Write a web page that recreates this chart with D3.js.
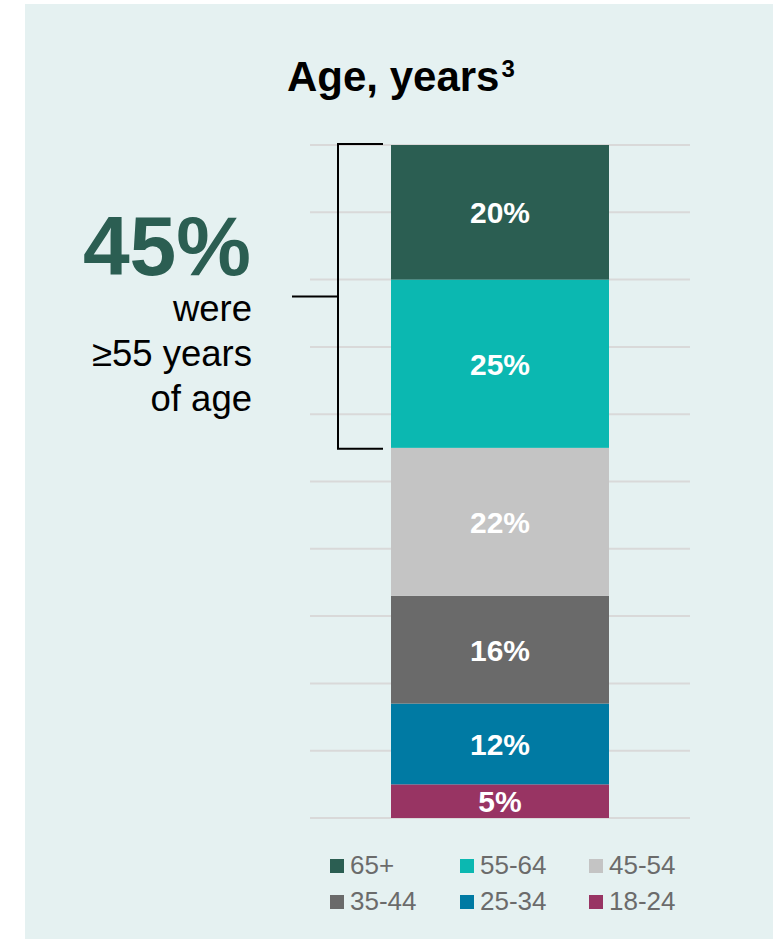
<!DOCTYPE html>
<html>
<head>
<meta charset="utf-8">
<script src="https://cdn.jsdelivr.net/npm/d3@7"></script>
<style>
  html, body { margin: 0; padding: 0; background: #ffffff; }
  svg { display: block; font-family: "Liberation Sans", Arial, Helvetica, sans-serif; }
</style>
</head>
<body>
<svg id="chart" width="782" height="941"></svg>
<script>
// ---- data ----
const categories = ["18-24", "25-34", "35-44", "45-54", "55-64", "65+"];
const values = [5, 12, 16, 22, 25, 20];
const colors = ["#983463", "#007aa3", "#6a6a6a", "#c4c4c4", "#0bb8b1", "#2b5e52"];
const legendOrder = ["65+", "55-64", "45-54", "35-44", "25-34", "18-24"];
const gridTicks = [0, 10, 20, 30, 40, 50, 60, 70, 80, 90, 100];
const titleText = "Age, years";
const titleSup = "3";
const calloutValue = "45%";
const calloutLines = ["were", "\u226555 years", "of age"];
const bracketRange = [55, 100];

// ---- layout ----
const svg = d3.select("#chart");
svg.append("rect").attr("x", 25).attr("y", 4).attr("width", 748).attr("height", 935).attr("fill", "#e5f1f1");

const y = d3.scaleLinear().domain([0, 100]).range([818, 145]);
const x = d3.scaleBand().domain(["Age"]).range([391, 609]).padding(0);

// gridlines
svg.append("g").selectAll("line").data(gridTicks).join("line")
  .attr("x1", 310).attr("x2", 690)
  .attr("y1", d => y(d)).attr("y2", d => y(d))
  .attr("stroke", "#d9d9d9").attr("stroke-width", 2);

// stacked data
let acc = 0;
const stacked = categories.map((c, i) => {
  const s = { cat: c, v: values[i], y0: acc, y1: acc + values[i], color: colors[i] };
  acc += values[i];
  return s;
});

const g = svg.append("g");
g.selectAll("rect").data(stacked).join("rect")
  .attr("x", x("Age")).attr("width", x.bandwidth())
  .attr("y", d => y(d.y1)).attr("height", d => y(d.y0) - y(d.y1))
  .attr("fill", d => d.color);

g.selectAll("text").data(stacked).join("text")
  .attr("x", x("Age") + x.bandwidth() / 2)
  .attr("y", d => (y(d.y0) + y(d.y1)) / 2)
  .attr("dy", "0.36em")
  .attr("text-anchor", "middle")
  .attr("fill", "#ffffff").attr("font-weight", "bold").attr("font-size", 30)
  .text(d => d.v + "%");

// title
const title = svg.append("text").attr("x", 287).attr("y", 91)
  .attr("font-weight", "bold").attr("font-size", 42).attr("fill", "#000");
title.append("tspan").text(titleText);
title.append("tspan").attr("font-size", 24).attr("dy", -14).attr("dx", 2).text(titleSup);

// bracket
const bTop = y(bracketRange[1]) - 1, bBot = y(bracketRange[0]) + 1;
const bx = 338;
const bracket = svg.append("g").attr("stroke", "#000").attr("stroke-width", 2).attr("fill", "none");
bracket.append("path").attr("d", `M383,${bTop} H${bx} V${bBot} H383`);
bracket.append("line").attr("x1", 292).attr("x2", bx).attr("y1", (bTop + bBot) / 2).attr("y2", (bTop + bBot) / 2);

// callout
svg.append("text").attr("x", 251).attr("y", 275).attr("text-anchor", "end")
  .attr("font-weight", "bold").attr("font-size", 84).attr("fill", "#2b5e52").text(calloutValue);
svg.append("g").selectAll("text").data(calloutLines).join("text")
  .attr("x", 252).attr("y", (d, i) => 321 + i * 45)
  .attr("text-anchor", "end").attr("font-size", 36.5).attr("fill", "#000")
  .text(d => d);

// legend
const legend = svg.append("g");
const colX = [330, 460, 589];
const rowY = [859, 895];
legendOrder.forEach((name, i) => {
  const ci = categories.indexOf(name);
  const lx = colX[i % 3], ly = rowY[Math.floor(i / 3)];
  legend.append("rect").attr("x", lx).attr("y", ly).attr("width", 14).attr("height", 14).attr("fill", colors[ci]);
  legend.append("text").attr("x", lx + 20).attr("y", ly + 15).attr("font-size", 26).attr("fill", "#6b6b6b").text(name);
});
</script>
</body>
</html>
